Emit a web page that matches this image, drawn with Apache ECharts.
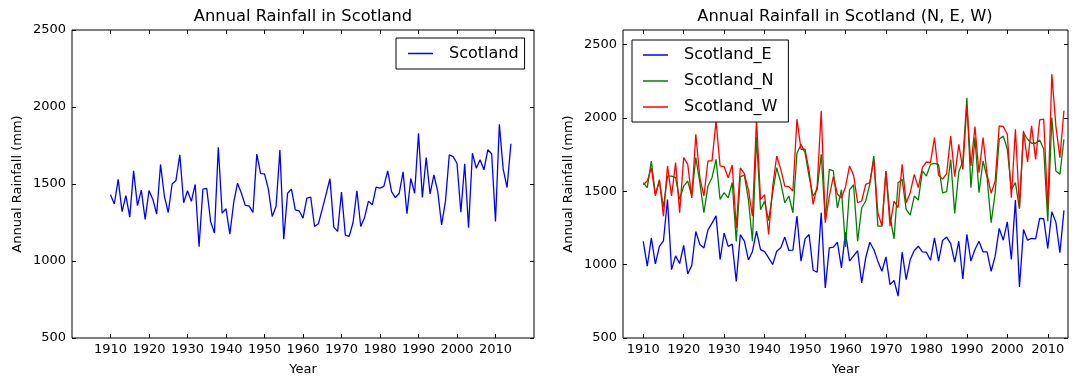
<!DOCTYPE html>
<html>
<head>
<meta charset="utf-8">
<script src="https://cdn.jsdelivr.net/npm/echarts@6/dist/echarts.min.js"></script>
<style>html,body{margin:0;padding:0;background:#fff}#c{width:1076px;height:376px}</style>
</head>
<body>
<div id="c"></div>
<script>
const years = [
1910,1911,1912,1913,1914,1915,1916,1917,1918,1919,
1920,1921,1922,1923,1924,1925,1926,1927,1928,1929,
1930,1931,1932,1933,1934,1935,1936,1937,1938,1939,
1940,1941,1942,1943,1944,1945,1946,1947,1948,1949,
1950,1951,1952,1953,1954,1955,1956,1957,1958,1959,
1960,1961,1962,1963,1964,1965,1966,1967,1968,1969,
1970,1971,1972,1973,1974,1975,1976,1977,1978,1979,
1980,1981,1982,1983,1984,1985,1986,1987,1988,1989,
1990,1991,1992,1993,1994,1995,1996,1997,1998,1999,
2000,2001,2002,2003,2004,2005,2006,2007,2008,2009,
2010,2011,2012,2013,2014];

const scotland = [
1430,1370,1530,1320,1425,1285,1585,1360,1460,1270,
1458,1400,1305,1627,1420,1315,1500,1523,1690,1378,
1456,1387,1497,1093,1467,1471,1257,1181,1739,1311,
1339,1175,1380,1505,1440,1361,1358,1315,1694,1568,
1566,1467,1289,1354,1720,1142,1440,1467,1332,1326,
1278,1408,1415,1224,1242,1337,1434,1534,1220,1192,
1447,1168,1160,1250,1456,1224,1283,1389,1365,1480,
1473,1484,1585,1451,1412,1440,1579,1307,1536,1440,
1830,1412,1672,1436,1559,1451,1235,1387,1689,1678,
1635,1317,1631,1216,1700,1603,1657,1592,1722,1696,
1257,1888,1596,1477,1761];

const scotlandE = [
1159,990,1182,1005,1125,1163,1444,966,1060,1008,
1132,937,995,1226,1137,1114,1237,1283,1333,1035,
1216,1125,1140,886,1205,1160,1032,1090,1228,1103,
1089,1046,1001,1092,1115,1188,1097,1099,1331,1024,
1176,1206,962,948,1354,841,1115,1119,1153,978,
1220,1025,1060,1095,876,1047,1153,1103,1024,955,
1053,864,892,785,1085,898,1035,1097,1126,1087,
1085,1030,1183,1024,1165,1188,1144,1017,1160,903,
1206,1024,1103,1160,1087,1087,955,1058,1247,1167,
1292,1035,1440,848,1240,1167,1179,1176,1315,1313,
1110,1361,1290,1081,1370];

const scotlandN = [
1559,1525,1707,1480,1570,1390,1604,1604,1593,1445,
1536,1570,1468,1730,1559,1354,1536,1593,1718,1445,
1491,1456,1560,1159,1600,1610,1443,1160,1870,1375,
1432,1300,1491,1661,1559,1422,1468,1354,1760,1820,
1764,1600,1468,1513,1753,1308,1650,1640,1386,1511,
1120,1510,1545,1160,1388,1434,1548,1741,1263,1263,
1639,1331,1176,1559,1582,1377,1338,1468,1440,1639,
1604,1684,1690,1682,1490,1498,1717,1350,1632,1706,
2138,1525,1866,1491,1707,1593,1286,1491,1855,1878,
1787,1513,1559,1381,1901,1855,1828,1828,1850,1787,
1297,2003,1639,1616,1855];

const scotlandW = [
1545,1570,1660,1470,1580,1330,1673,1468,1696,1354,
1730,1684,1455,1889,1593,1468,1707,1707,1980,1673,
1668,1593,1680,1250,1660,1620,1510,1330,1990,1443,
1477,1206,1531,1741,1650,1536,1532,1502,1992,1787,
1787,1640,1411,1536,2049,1286,1468,1600,1480,1454,
1530,1673,1610,1422,1434,1548,1559,1718,1354,1263,
1639,1263,1434,1388,1684,1422,1491,1616,1525,1661,
1700,1696,1866,1610,1583,1620,1876,1600,1820,1650,
2087,1673,1942,1627,1866,1616,1486,1570,1946,1942,
1889,1456,1923,1388,1912,1700,1946,1718,1987,1992,
1377,2299,1946,1730,2049];

const xTicks = [1910,1920,1930,1940,1950,1960,1970,1980,1990,2000,2010];
const yTicks = [500,1000,1500,2000,2500];

const FONT = 'DejaVu Sans';
const pairs = vals => years.map((y, i) => [y, vals[i]]);
const plain = v => String(v);

function xAx(grid, min, max, pos, withLabel) {
  return {
    type: 'value', gridIndex: grid, min: min, max: max, position: pos,
    axisLine: {show: false, onZero: false},
    splitLine: {show: false},
    axisTick: {show: true, inside: true, length: 4, customValues: xTicks, lineStyle: {color: '#000', width: 1}},
    axisLabel: {show: withLabel, customValues: xTicks, formatter: plain, color: '#000', fontFamily: FONT, fontSize: 13, margin: 5},
    name: withLabel ? 'Year' : '', nameLocation: 'middle', nameGap: 25,
    nameTextStyle: {color: '#000', fontFamily: FONT, fontSize: 13}
  };
}
function yAx(grid, min, max, pos, withLabel) {
  return {
    type: 'value', gridIndex: grid, min: min, max: max, position: pos,
    axisLine: {show: false, onZero: false},
    splitLine: {show: false},
    axisTick: {show: true, inside: true, length: 4, customValues: yTicks, lineStyle: {color: '#000', width: 1}},
    axisLabel: {show: withLabel, customValues: yTicks, formatter: plain, color: '#000', fontFamily: FONT, fontSize: 13, margin: 6},
    name: withLabel ? 'Annual Rainfall (mm)' : '', nameLocation: 'middle', nameGap: 48,
    nameTextStyle: {color: '#000', fontFamily: FONT, fontSize: 13}
  };
}
function line(name, vals, color, xi, yi) {
  return {
    type: 'line', name: name, data: pairs(vals), xAxisIndex: xi, yAxisIndex: yi,
    symbol: 'none', showSymbol: false, lineStyle: {color: color, width: 1.3}, itemStyle: {color: color},
    animation: false
  };
}
const legendBase = {
  orient: 'vertical', borderColor: '#000', borderWidth: 1, borderRadius: 0, backgroundColor: '#fff',
  icon: 'rect', itemWidth: 25, itemHeight: 1.5, itemGap: 7,
  textStyle: {color: '#000', fontFamily: FONT, fontSize: 16, lineHeight: 19, padding: [0, 0, 0, 11]}
};

const chart = echarts.init(document.getElementById('c'), null, {renderer: 'canvas'});
chart.setOption({
  backgroundColor: '#fff',
  animation: false,
  title: [
    {text: 'Annual Rainfall in Scotland', left: 303, top: 9, padding: 0, textAlign: 'center',
     textStyle: {color: '#000', fontFamily: FONT, fontSize: 16.3, fontWeight: 'normal'}},
    {text: 'Annual Rainfall in Scotland (N, E, W)', left: 845, top: 9, padding: 0, textAlign: 'center',
     textStyle: {color: '#000', fontFamily: FONT, fontSize: 16.3, fontWeight: 'normal'}}
  ],
  legend: [
    Object.assign({}, legendBase, {data: ['Scotland'], left: 396, top: 38, padding: [6, 6, 6, 12]}),
    Object.assign({}, legendBase, {data: ['Scotland_E', 'Scotland_N', 'Scotland_W'], left: 632, top: 40, padding: [5.5, 11, 5.5, 11]})
  ],
  grid: [
    {left: 72, top: 30, width: 462, height: 308, show: true, borderColor: '#000', borderWidth: 1, containLabel: false, outerBoundsMode: 'none'},
    {left: 623, top: 30, width: 445, height: 308, show: true, borderColor: '#000', borderWidth: 1, containLabel: false, outerBoundsMode: 'none'}
  ],
  xAxis: [
    xAx(0, 1900, 2020, 'bottom', true),
    xAx(0, 1900, 2020, 'top', false),
    xAx(1, 1905, 2015, 'bottom', true),
    xAx(1, 1905, 2015, 'top', false)
  ],
  yAxis: [
    yAx(0, 500, 2500, 'left', true),
    yAx(0, 500, 2500, 'right', false),
    yAx(1, 500, 2600, 'left', true),
    yAx(1, 500, 2600, 'right', false)
  ],
  series: [
    line('Scotland', scotland, '#0000ff', 0, 0),
    line('Scotland_E', scotlandE, '#0000ff', 2, 2),
    line('Scotland_N', scotlandN, '#008000', 2, 2),
    line('Scotland_W', scotlandW, '#ff0000', 2, 2)
  ]
});
</script>
</body>
</html>
